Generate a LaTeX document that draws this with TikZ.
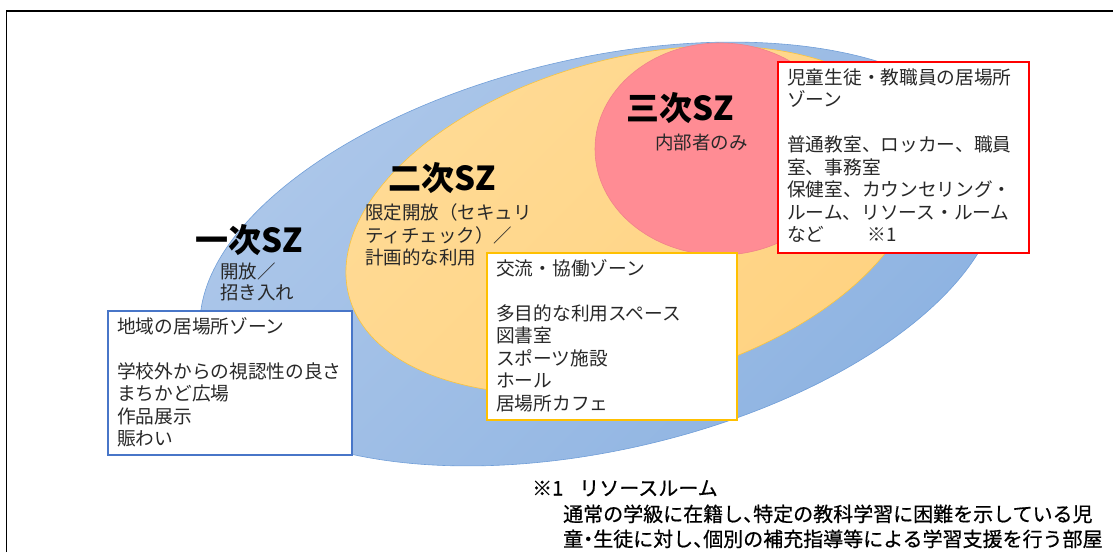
\documentclass[tikz,border=0pt]{standalone}
\usepackage{fontspec}
\setmainfont{Noto Sans CJK JP}
\usetikzlibrary{shapes.geometric,calc}

\definecolor{blueL}{RGB}{174,200,234}
\definecolor{blueD}{RGB}{140,178,225}
\definecolor{blueE}{RGB}{112,158,216}
\definecolor{yelL}{RGB}{255,219,150}
\definecolor{yelD}{RGB}{255,210,128}
\definecolor{yelE}{RGB}{250,196,60}
\definecolor{redF}{RGB}{255,140,148}
\definecolor{redE}{RGB}{240,130,138}
\definecolor{boxblue}{RGB}{72,118,200}
\definecolor{boxyel}{RGB}{255,192,0}
\definecolor{boxred}{RGB}{255,0,0}
\definecolor{txt}{RGB}{40,40,40}

\newcommand\tlines[1]{\begin{tabular}[t]{@{}l@{}}#1\end{tabular}}
\newcommand\hpl[1]{\makebox[0.5em][l]{#1}}
\newcommand\hpc[1]{\makebox[0.5em][c]{#1}}

\tikzset{
  boxtxt/.style={font=\fontsize{18.7}{22.5}\selectfont, text=txt, anchor=base west, inner sep=0pt},
  lbl/.style={font=\fontsize{18.5}{22.5}\selectfont, text=txt, anchor=base west, inner sep=0pt},
  ttl/.style={font=\bfseries\fontsize{33}{36}\selectfont, anchor=base west, inner sep=0pt},
  note/.style={font=\fontsize{20}{25}\selectfont\addfontfeature{FakeBold=0.6}, anchor=base west, inner sep=0pt},
  zone/.style={draw, rectangle, fill=white, anchor=north west, inner sep=0pt, outer sep=0pt, line width=1.2pt},
  oval/.style={ellipse, inner sep=0pt, outer sep=0pt, line width=0.6pt},
}

\begin{document}
\begin{tikzpicture}[x=1pt, y=-1pt]
\useasboundingbox (0,0) rectangle (1113,552);

% frame
\coordinate (fa) at (6.5,552);
\coordinate (fb) at (6.5,10.8);
\coordinate (fc) at (1113,10.8);
\draw[line width=1.5pt] (fa) -- (fb) -- (fc);

% zones
\node[oval, draw=blueE, top color=blueL, bottom color=blueD, shading angle=45,
      minimum width=816pt, minimum height=392pt, rotate=13] (sz1) at (600,254) {};
\node[oval, draw=yelE, top color=yelL, bottom color=yelD, shading angle=45,
      minimum width=588pt, minimum height=324pt, rotate=15] (sz2) at (633,220) {};
\node[oval, draw=redE, fill=redF, minimum width=250pt, minimum height=212pt] (sz3) at (720,149) {};

% titles and labels
\node[ttl] (t1) at (195,252) {一次SZ};
\node[ttl] (t2) at (388,190) {二次SZ};
\node[ttl] (t3) at (626,120) {三次SZ};
\node[lbl, font=\fontsize{18.5}{21}\selectfont] (l1) at (220,278) {\tlines{開放／\\招き入れ}};
\node[lbl] (l2) at (365,219.5) {\tlines{限定開放（セキュリ\\ティチェック）／\\計画的な利用}};
\node[lbl] (l3) at (655,149.5) {内部者のみ};

% boxes
\node[zone, draw=boxblue, minimum width=244pt, minimum height=144pt] (z1) at (108,311) {};
\node[boxtxt] (z1t) at ($(z1.north west)+(9,22)$)
  {\tlines{地域の居場所ゾーン\\ \\学校外からの視認性の良さ\\まちかど広場\\作品展示\\賑わい}};

\node[zone, draw=boxyel, minimum width=250pt, minimum height=167pt] (z2) at (487,253) {};
\node[boxtxt] (z2t) at ($(z2.north west)+(9,22)$)
  {\tlines{交流・協働ゾーン\\ \\多目的な利用スペース\\図書室\\スポーツ施設\\ホール\\居場所カフェ}};

\node[zone, draw=boxred, minimum width=251pt, minimum height=191pt] (z3) at (778,62) {};
\node[boxtxt] (z3t) at ($(z3.north west)+(9,22)$)
  {\tlines{児童生徒・教職員の居場所\\ゾーン\\ \\普通教室、ロッカー、職員\\室、事務室\\保健室、カウンセリング・\\ルーム、リソース・ルーム\\など\hspace{2.3em}※1}};

% footnote
\node[note] (fn) at (532,495.5) {※1\hspace{0.8em}リソースルーム};
\node[note] (fnb) at (563,521.5)
  {\tlines{通常の学級に在籍し\hpl{、}特定の教科学習に困難を示している児\\童\hpc{・}生徒に対し\hpl{、}個別の補充指導等による学習支援を行う部屋}};
\end{tikzpicture}
\end{document}
